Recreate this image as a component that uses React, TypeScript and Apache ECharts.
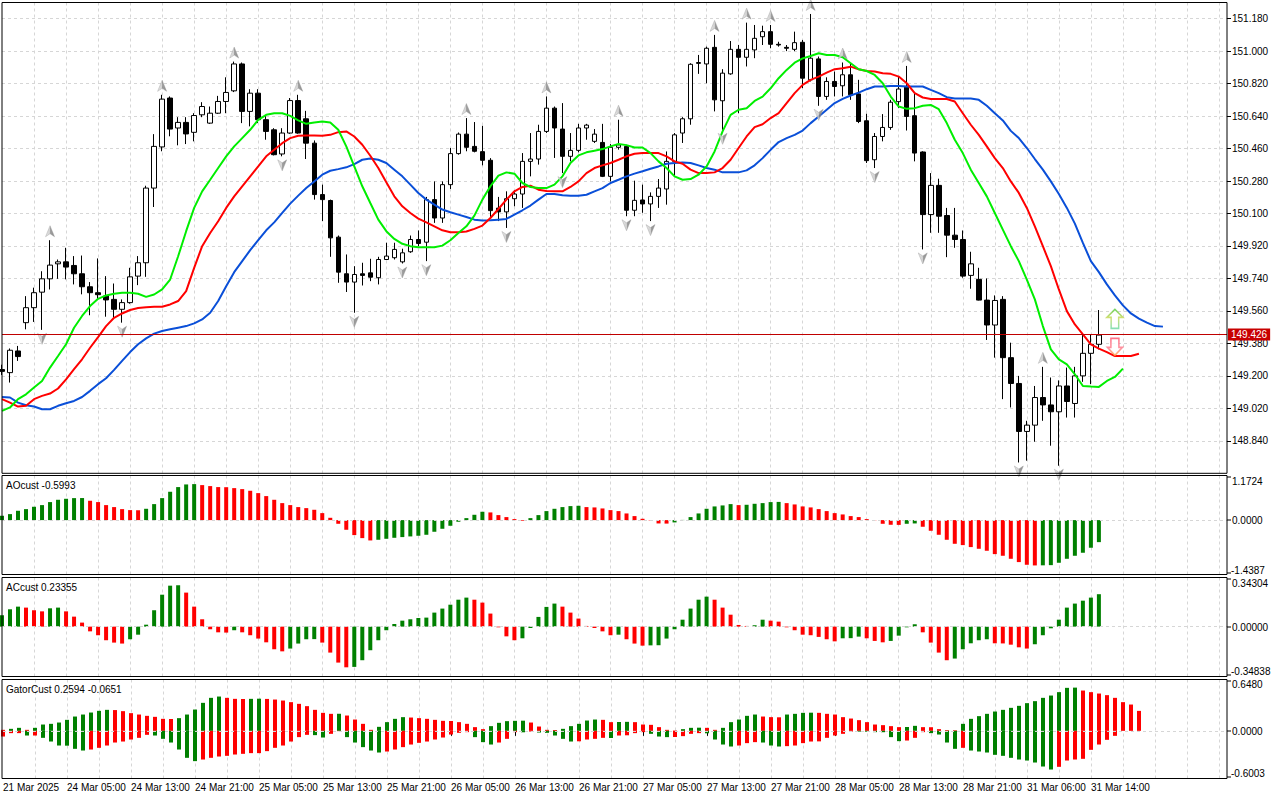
import React, { useEffect, useRef } from "react";
import * as echarts from "echarts";

// ---------- data (USDJPY H1) ----------
const timeLabels = [
  "21 Mar 2025", "24 Mar 05:00", "24 Mar 13:00", "24 Mar 21:00", "25 Mar 05:00", "25 Mar 13:00",
  "25 Mar 21:00", "26 Mar 05:00", "26 Mar 13:00", "26 Mar 21:00", "27 Mar 05:00", "27 Mar 13:00",
  "27 Mar 21:00", "28 Mar 05:00", "28 Mar 13:00", "28 Mar 21:00", "31 Mar 06:00", "31 Mar 14:00",
];
const slotCount = 154;

const openP = [
  149.235, 149.218, 149.338, 149.495, 149.578, 149.664, 149.738, 149.821, 149.832, 149.812,
  149.766, 149.694, 149.661, 149.643, 149.624, 149.569, 149.606, 149.753, 149.827, 150.241,
  150.469, 150.740, 150.574, 150.605, 150.550, 150.647, 150.601, 150.656, 150.721, 150.780,
  150.929, 150.666, 150.767, 150.620, 150.564, 150.430, 150.546, 150.726, 150.625, 150.490,
  150.205, 150.172, 149.969, 149.766, 149.720, 149.766, 149.771, 149.744, 149.845, 149.855,
  149.832, 149.888, 149.956, 149.941, 150.177, 150.075, 150.260, 150.432, 150.540, 150.472,
  150.443, 150.395, 150.130, 150.109, 150.182, 150.208, 150.389, 150.402, 150.555, 150.684,
  150.568, 150.417, 150.450, 150.574, 150.500, 150.494, 150.306, 150.467, 150.472, 150.118,
  150.175, 150.153, 150.195, 150.236, 150.389, 150.546, 150.625, 150.932, 150.929, 151.021,
  150.725, 150.874, 151.010, 150.966, 151.007, 151.080, 151.108, 151.038, 151.021, 151.010,
  151.049, 150.841, 150.957, 150.749, 150.832, 150.808, 150.869, 150.763, 150.614, 150.398,
  150.527, 150.577, 150.720, 150.800, 150.642, 150.441, 150.094, 150.256, 150.089, 149.980,
  149.956, 149.757, 149.735, 149.620, 149.482, 149.624, 149.301, 149.158, 148.892, 148.927,
  149.080, 149.039, 149.001, 149.144, 149.047, 149.200, 149.325, 149.375,
];
const highP = [
  149.262, 149.352, 149.366, 149.642, 149.689, 149.780, 149.952, 149.845, 149.910, 149.864,
  149.867, 149.720, 149.851, 149.753, 149.712, 149.624, 149.799, 149.864, 150.254, 150.540,
  150.758, 150.749, 150.634, 150.634, 150.656, 150.717, 150.693, 150.752, 150.855, 150.942,
  150.937, 150.789, 150.789, 150.640, 150.573, 150.573, 150.740, 150.758, 150.669, 150.505,
  150.260, 150.177, 149.978, 149.873, 149.808, 149.827, 149.849, 149.860, 149.938, 149.938,
  149.905, 149.978, 150.006, 150.192, 150.278, 150.278, 150.463, 150.549, 150.629, 150.607,
  150.586, 150.407, 150.192, 150.223, 150.229, 150.435, 150.546, 150.592, 150.749, 150.693,
  150.712, 150.546, 150.597, 150.597, 150.568, 150.597, 150.485, 150.620, 150.481, 150.282,
  150.260, 150.217, 150.291, 150.444, 150.546, 150.634, 150.933, 150.979, 151.025, 151.090,
  150.900, 151.056, 151.034, 151.158, 151.145, 151.141, 151.145, 151.052, 151.034, 151.108,
  151.062, 151.206, 150.970, 150.855, 150.887, 150.937, 150.933, 150.841, 150.653, 150.546,
  150.651, 150.730, 150.859, 150.918, 150.767, 150.445, 150.324, 150.293, 150.131, 150.131,
  150.006, 149.888, 149.799, 149.740, 149.646, 149.642, 149.384, 149.200, 148.951, 149.144,
  149.250, 149.191, 149.175, 149.246, 149.250, 149.430, 149.430, 149.565,
];
const lowP = [
  149.205, 149.163, 149.283, 149.458, 149.499, 149.455, 149.679, 149.738, 149.735, 149.707,
  149.652, 149.536, 149.624, 149.528, 149.517, 149.495, 149.600, 149.703, 149.749, 150.136,
  150.445, 150.528, 150.478, 150.485, 150.500, 150.634, 150.597, 150.652, 150.656, 150.773,
  150.601, 150.583, 150.601, 150.509, 150.422, 150.417, 150.542, 150.542, 150.402, 150.177,
  150.058, 149.860, 149.716, 149.665, 149.550, 149.701, 149.725, 149.707, 149.842, 149.845,
  149.823, 149.882, 149.919, 149.836, 150.048, 150.048, 150.236, 150.426, 150.445, 150.439,
  150.367, 150.076, 150.058, 150.020, 150.140, 150.131, 150.306, 150.371, 150.546, 150.408,
  150.324, 150.389, 150.439, 150.509, 150.491, 150.302, 150.278, 150.454, 150.085, 150.085,
  150.104, 150.058, 150.131, 150.149, 150.310, 150.491, 150.592, 150.874, 150.822, 150.666,
  150.564, 150.869, 150.656, 150.915, 150.961, 151.034, 151.016, 151.025, 151.000, 151.000,
  150.795, 150.832, 150.697, 150.730, 150.749, 150.749, 150.730, 150.601, 150.380, 150.352,
  150.500, 150.564, 150.684, 150.560, 150.389, 149.901, 149.993, 149.993, 149.858, 149.910,
  149.744, 149.683, 149.618, 149.399, 149.301, 149.071, 149.025, 148.720, 148.730, 148.835,
  148.951, 148.813, 148.702, 148.969, 148.969, 149.167, 149.154, 149.347,
];
const closeP = [
  149.225, 149.342, 149.307, 149.578, 149.661, 149.738, 149.814, 149.832, 149.803, 149.766,
  149.694, 149.661, 149.650, 149.621, 149.569, 149.606, 149.749, 149.827, 150.241, 150.472,
  150.734, 150.568, 150.605, 150.541, 150.643, 150.693, 150.656, 150.721, 150.771, 150.929,
  150.666, 150.767, 150.620, 150.555, 150.426, 150.546, 150.726, 150.546, 150.490, 150.205,
  150.177, 149.965, 149.775, 149.720, 149.762, 149.757, 149.747, 149.845, 149.864, 149.901,
  149.882, 149.956, 149.934, 150.177, 150.075, 150.260, 150.432, 150.540, 150.467, 150.445,
  150.395, 150.116, 150.109, 150.182, 150.208, 150.389, 150.402, 150.555, 150.684, 150.574,
  150.417, 150.450, 150.574, 150.590, 150.540, 150.306, 150.467, 150.480, 150.118, 150.173,
  150.153, 150.195, 150.241, 150.389, 150.536, 150.625, 150.927, 150.937, 151.016, 150.730,
  150.878, 151.010, 150.966, 151.010, 151.071, 151.108, 151.038, 151.034, 151.016, 151.047,
  150.850, 150.961, 150.749, 150.832, 150.804, 150.869, 150.758, 150.610, 150.393, 150.527,
  150.577, 150.717, 150.790, 150.638, 150.435, 150.094, 150.256, 150.085, 149.980, 149.956,
  149.753, 149.821, 149.620, 149.482, 149.618, 149.301, 149.158, 148.892, 148.927, 149.080,
  149.039, 149.001, 149.144, 149.058, 149.200, 149.325, 149.375, 149.426,
];

// Alligator (already shifted forward as drawn)
const jaw = [
  149.083, 149.080, 149.052, 149.037, 149.030, 149.015, 149.015, 149.034, 149.048, 149.061,
  149.083, 149.117, 149.154, 149.187, 149.233, 149.283, 149.332, 149.375, 149.408, 149.434,
  149.449, 149.458, 149.467, 149.476, 149.491, 149.513, 149.550, 149.615, 149.697, 149.775,
  149.836, 149.897, 149.952, 150.007, 150.051, 150.103, 150.155, 150.199, 150.241, 150.278,
  150.315, 150.337, 150.346, 150.356, 150.374, 150.398, 150.405, 150.398, 150.380, 150.343,
  150.306, 150.260, 150.214, 150.177, 150.149, 150.122, 150.107, 150.094, 150.081, 150.066,
  150.061, 150.062, 150.066, 150.070, 150.094, 150.118, 150.144, 150.177, 150.208, 150.208,
  150.201, 150.199, 150.199, 150.204, 150.223, 150.241, 150.269, 150.287, 150.306, 150.321,
  150.334, 150.348, 150.361, 150.376, 150.380, 150.383, 150.380, 150.367, 150.352, 150.343,
  150.328, 150.328, 150.328, 150.339, 150.367, 150.407, 150.453, 150.496, 150.518, 150.536,
  150.560, 150.601, 150.638, 150.675, 150.712, 150.735, 150.754, 150.770, 150.789, 150.804,
  150.804, 150.807, 150.807, 150.804, 150.804, 150.804, 150.785, 150.767, 150.745, 150.737,
  150.737, 150.737, 150.730, 150.697, 150.656, 150.616, 150.558, 150.518, 150.463, 150.402,
  150.343, 150.278, 150.208, 150.131, 150.044, 149.937, 149.836, 149.775, 149.707, 149.646,
  149.591, 149.546, 149.517, 149.495, 149.476, 149.473,
];
const teeth = [
  149.071, 149.052, 149.030, 149.034, 149.071, 149.089, 149.102, 149.130, 149.181, 149.237,
  149.292, 149.356, 149.415, 149.476, 149.522, 149.546, 149.565, 149.576, 149.581, 149.583,
  149.583, 149.596, 149.615, 149.670, 149.799, 149.919, 149.992, 150.057, 150.131, 150.195,
  150.251, 150.306, 150.361, 150.417, 150.453, 150.490, 150.518, 150.531, 150.533, 150.533,
  150.531, 150.536, 150.551, 150.555, 150.527, 150.481, 150.420, 150.352, 150.273, 150.195,
  150.140, 150.103, 150.072, 150.051, 150.029, 150.007, 149.996, 149.996, 150.000, 150.015,
  150.033, 150.075, 150.125, 150.177, 150.223, 150.247, 150.254, 150.232, 150.225, 150.223,
  150.223, 150.247, 150.278, 150.324, 150.352, 150.367, 150.380, 150.398, 150.417, 150.431,
  150.435, 150.435, 150.435, 150.417, 150.389, 150.376, 150.343, 150.324, 150.324, 150.328,
  150.352, 150.398, 150.463, 150.527, 150.579, 150.595, 150.629, 150.656, 150.712, 150.767,
  150.813, 150.841, 150.859, 150.881, 150.900, 150.905, 150.914, 150.900, 150.890, 150.887,
  150.877, 150.874, 150.859, 150.822, 150.767, 150.743, 150.735, 150.735, 150.735, 150.721,
  150.656, 150.592, 150.536, 150.472, 150.407, 150.352, 150.278, 150.214, 150.131, 150.029,
  149.919, 149.808, 149.679, 149.559, 149.485, 149.430, 149.375, 149.351, 149.332, 149.310,
  149.310, 149.310, 149.323,
];
const lips = [
  149.006, 149.025, 149.071, 149.098, 149.135, 149.172, 149.246, 149.310, 149.375, 149.467,
  149.532, 149.587, 149.627, 149.646, 149.655, 149.661, 149.661, 149.655, 149.638, 149.651,
  149.679, 149.734, 149.863, 150.002, 150.131, 150.223, 150.287, 150.352, 150.417, 150.472,
  150.518, 150.564, 150.619, 150.647, 150.656, 150.656, 150.641, 150.616, 150.597, 150.605,
  150.610, 150.605, 150.564, 150.472, 150.361, 150.251, 150.158, 150.066, 150.002, 149.959,
  149.932, 149.919, 149.913, 149.913, 149.913, 149.922, 149.952, 149.992, 150.029, 150.088,
  150.177, 150.251, 150.310, 150.328, 150.321, 150.269, 150.247, 150.241, 150.241, 150.260,
  150.306, 150.380, 150.422, 150.439, 150.448, 150.457, 150.472, 150.485, 150.479, 150.466,
  150.466, 150.435, 150.389, 150.352, 150.306, 150.287, 150.291, 150.315, 150.361, 150.444,
  150.555, 150.647, 150.675, 150.684, 150.724, 150.748, 150.794, 150.850, 150.896, 150.936,
  150.960, 150.973, 150.988, 150.979, 150.979, 150.966, 150.933, 150.900, 150.890, 150.868,
  150.822, 150.748, 150.693, 150.680, 150.684, 150.697, 150.702, 150.678, 150.601, 150.509,
  150.435, 150.343, 150.269, 150.195, 150.103, 150.011, 149.919, 149.836, 149.734, 149.624,
  149.476, 149.347, 149.292, 149.264, 149.209, 149.144, 149.141, 149.139, 149.172, 149.194,
  149.240,
];

// Fractal bars (index of bar)
const upFractalBars = [6, 20, 29, 37, 58, 68, 77, 89, 93, 96, 101, 105, 113, 130];
const downFractalBars = [5, 15, 35, 44, 50, 53, 63, 70, 78, 81, 90, 102, 109, 115, 127, 132];

// Signal arrows [bar, price]
const signalUp = [[139, 149.516]];
const signalDown = [[139, 149.361]];

// Oscillators
const aoValues = [
  0.118, 0.163, 0.254, 0.299, 0.363, 0.408, 0.490, 0.553, 0.580, 0.598,
  0.600, 0.526, 0.490, 0.408, 0.354, 0.299, 0.272, 0.268, 0.308, 0.435,
  0.598, 0.771, 0.898, 0.970, 0.979, 0.952, 0.925, 0.898, 0.895, 0.870,
  0.843, 0.798, 0.734, 0.653, 0.553, 0.462, 0.408, 0.354, 0.326, 0.281,
  0.190, 0.063, -0.100, -0.263, -0.408, -0.490, -0.553, -0.535, -0.508, -0.481,
  -0.462, -0.444, -0.426, -0.399, -0.317, -0.236, -0.154, -0.045, 0.054, 0.145,
  0.227, 0.209, 0.136, 0.082, 0.027, -0.018, 0.054, 0.136, 0.245, 0.308,
  0.354, 0.381, 0.390, 0.354, 0.345, 0.317, 0.272, 0.245, 0.181, 0.109,
  0.036, -0.009, -0.091, -0.095, -0.063, 0.005, 0.082, 0.181, 0.308, 0.372,
  0.399, 0.435, 0.408, 0.417, 0.444, 0.462, 0.490, 0.495, 0.462, 0.426,
  0.372, 0.345, 0.299, 0.245, 0.190, 0.154, 0.109, 0.082, 0.027, -0.005,
  -0.100, -0.127, -0.130, -0.100, -0.091, -0.181, -0.290, -0.399, -0.535, -0.644,
  -0.680, -0.734, -0.780, -0.834, -0.925, -0.970, -1.052, -1.142, -1.215, -1.233,
  -1.230, -1.225, -1.160, -1.052, -0.970, -0.888, -0.752, -0.5993,
];
const acValues = [
  0.082, 0.125, 0.144, 0.137, 0.118, 0.110, 0.132, 0.137, 0.110, 0.072,
  0.029, -0.034, -0.062, -0.098, -0.115, -0.122, -0.091, -0.058, 0.014, 0.118,
  0.230, 0.295, 0.298, 0.245, 0.144, 0.053, -0.019, -0.041, -0.043, -0.026,
  -0.041, -0.062, -0.086, -0.113, -0.163, -0.178, -0.158, -0.122, -0.091, -0.090,
  -0.115, -0.187, -0.259, -0.293, -0.290, -0.242, -0.170, -0.098, -0.026, 0.019,
  0.043, 0.053, 0.062, 0.065, 0.101, 0.130, 0.158, 0.194, 0.209, 0.194,
  0.173, 0.094, -0.005, -0.070, -0.098, -0.084, -0.010, 0.070, 0.142, 0.166,
  0.144, 0.101, 0.058, 0.005, -0.010, -0.034, -0.062, -0.058, -0.091, -0.122,
  -0.137, -0.135, -0.134, -0.086, -0.019, 0.050, 0.130, 0.194, 0.216, 0.194,
  0.137, 0.086, 0.012, 0.005, 0.010, 0.050, 0.043, 0.036, -0.005, -0.026,
  -0.058, -0.062, -0.074, -0.091, -0.106, -0.084, -0.083, -0.072, -0.084, -0.103,
  -0.113, -0.103, -0.065, -0.005, 0.017, -0.041, -0.115, -0.187, -0.242, -0.230,
  -0.163, -0.120, -0.098, -0.091, -0.120, -0.121, -0.130, -0.149, -0.158, -0.127,
  -0.062, -0.012, 0.050, 0.137, 0.166, 0.187, 0.209, 0.23355,
];
const gatorUpper = [
  0.013, 0.026, 0.039, 0.013, 0.039, 0.082, 0.091, 0.108, 0.143, 0.186,
  0.212, 0.238, 0.260, 0.273, 0.270, 0.256, 0.230, 0.212, 0.195, 0.182,
  0.156, 0.154, 0.165, 0.212, 0.277, 0.364, 0.429, 0.446, 0.429, 0.416,
  0.414, 0.416, 0.418, 0.415, 0.407, 0.394, 0.373, 0.351, 0.321, 0.273,
  0.234, 0.221, 0.222, 0.199, 0.147, 0.091, 0.013, 0.052, 0.113, 0.156,
  0.178, 0.173, 0.165, 0.156, 0.143, 0.130, 0.128, 0.113, 0.091, 0.048,
  0.022, 0.061, 0.104, 0.126, 0.130, 0.132, 0.108, 0.056, 0.013, 0.011,
  0.026, 0.061, 0.091, 0.134, 0.147, 0.143, 0.113, 0.115, 0.117, 0.113,
  0.082, 0.078, 0.048, 0.013, 0.004, 0.022, 0.039, 0.041, 0.039, 0.013,
  0.039, 0.113, 0.147, 0.195, 0.212, 0.186, 0.178, 0.176, 0.212, 0.221,
  0.234, 0.236, 0.234, 0.221, 0.212, 0.178, 0.160, 0.139, 0.113, 0.082,
  0.074, 0.061, 0.048, 0.050, 0.065, 0.048, 0.047, 0.022, 0.009, 0.008,
  0.091, 0.156, 0.191, 0.221, 0.251, 0.273, 0.299, 0.325, 0.360, 0.386,
  0.429, 0.459, 0.503, 0.559, 0.562, 0.524, 0.503, 0.485, 0.464, 0.429,
  0.373, 0.342, 0.2594,
];
const gatorLower = [
  -0.074, -0.030, -0.030, -0.061, -0.061, -0.091, -0.139, -0.191, -0.193, -0.234,
  -0.256, -0.243, -0.221, -0.191, -0.152, -0.139, -0.113, -0.091, -0.052, -0.061,
  -0.104, -0.152, -0.243, -0.351, -0.394, -0.373, -0.351, -0.334, -0.325, -0.308,
  -0.299, -0.290, -0.290, -0.264, -0.221, -0.191, -0.139, -0.082, -0.052, -0.056,
  -0.087, -0.039, -0.004, -0.082, -0.152, -0.212, -0.256, -0.282, -0.269, -0.243,
  -0.212, -0.178, -0.156, -0.139, -0.113, -0.087, -0.048, -0.026, -0.017, -0.082,
  -0.147, -0.178, -0.152, -0.104, -0.017, -0.019, -0.009, -0.022, -0.026, -0.061,
  -0.104, -0.139, -0.136, -0.113, -0.104, -0.091, -0.093, -0.061, -0.058, -0.030,
  -0.017, -0.039, -0.074, -0.082, -0.080, -0.069, -0.039, -0.030, -0.032, -0.113,
  -0.178, -0.204, -0.191, -0.160, -0.147, -0.152, -0.191, -0.204, -0.199, -0.191,
  -0.160, -0.139, -0.137, -0.091, -0.061, -0.039, -0.009, -0.010, -0.011, -0.017,
  -0.018, -0.082, -0.134, -0.126, -0.091, -0.017, -0.030, -0.048, -0.152, -0.234,
  -0.221, -0.256, -0.269, -0.282, -0.312, -0.325, -0.351, -0.373, -0.386, -0.412,
  -0.464, -0.503, -0.468, -0.386, -0.373, -0.364, -0.247, -0.178, -0.117, -0.0651,
];

// pane scale labels
const aoScale = { top: 1.1724, bottom: -1.4387 };
const acScale = { top: 0.34304, bottom: -0.34838 };
const gatorScale = { top: 0.648, bottom: -0.6003 };

// ---------- styling ----------
const FONT = "'Liberation Sans', Arial, sans-serif";
const GREEN = "#008000";
const RED = "#ff0000";
const GRIDC = "#d6d6d6";

function colored(values: number[], useAbs: boolean, firstColor: string) {
  return values.map((v, i) => {
    let c = firstColor;
    if (i > 0) {
      const a = useAbs ? Math.abs(v) : v;
      const b = useAbs ? Math.abs(values[i - 1]) : values[i - 1];
      c = a > b ? GREEN : RED;
    }
    return { value: v, itemStyle: { color: c } };
  });
}

function buildOption() {
  const categories = Array.from({ length: slotCount }, (_, i) => String(i));
  const L = 2;
  const R = 53;
  const gridBoxes = [
    { top: 2.5, height: 470.8 },
    { top: 475.5, height: 99 },
    { top: 577.5, height: 99 },
    { top: 679.5, height: 99 },
  ];
  const grids = gridBoxes.map((g) => ({
    left: L, right: R, top: g.top, height: g.height,
    show: false,
  }));

  const labelShown = (i: number) => i % 8 === 0 && i / 8 < timeLabels.length;
  const xAxes = grids.map((_, k) => ({
    type: "category",
    gridIndex: k,
    data: categories,
    boundaryGap: false,
    axisLine: { show: false },
    axisTick: k === 3
      ? { show: true, interval: labelShown, length: 5, lineStyle: { color: "#000" } }
      : { show: false },
    axisLabel: k === 3
      ? {
          show: true,
          interval: labelShown,
          formatter: (v: string) => timeLabels[Number(v) / 8] ?? "",
          align: "left",
          margin: 4,
          color: "#000",
          fontSize: 10,
          fontFamily: FONT,
        }
      : { show: false },
    splitLine: {
      show: true,
      interval: (i: number) => i % 4 === 0 && i > 0,
      lineStyle: { color: GRIDC, type: [3, 3], width: 1 },
    },
  }));

  const pxAO = 96 / (aoScale.top - aoScale.bottom);
  const pxAC = 96 / (acScale.top - acScale.bottom);
  const pxG = 96 / (gatorScale.top - gatorScale.bottom);
  const sub = (gi: number, top: number, bottom: number, px: number) => ({
    type: "value",
    gridIndex: gi,
    position: "right",
    min: bottom - 1.5 / px,
    max: top + 1.5 / px,
    axisLine: { show: false },
    axisTick: { show: false },
    axisLabel: { show: false },
    splitLine: { show: false },
  });

  const yAxes = [
    {
      type: "value",
      gridIndex: 0,
      position: "right",
      min: 148.66,
      max: 151.2696,
      interval: 0.18,
      axisLine: { show: false },
      axisTick: { show: true, length: 4, lineStyle: { color: "#000" } },
      axisLabel: {
        show: true,
        showMinLabel: false,
        showMaxLabel: false,
        formatter: (v: number) => v.toFixed(3),
        margin: 5,
        color: "#000",
        fontSize: 10,
        fontFamily: FONT,
      },
      splitLine: {
        show: true,
        showMinLine: false,
        showMaxLine: false,
        lineStyle: { color: GRIDC, type: [3, 3], width: 1 },
      },
    },
    sub(1, aoScale.top, aoScale.bottom, pxAO),
    sub(2, acScale.top, acScale.bottom, pxAC),
    sub(3, gatorScale.top, gatorScale.bottom, pxG),
  ];

  const candles = openP.map((o, i) => [o, closeP[i], lowP[i], highP[i]]);
  const lastClose = closeP[closeP.length - 1];

  const fractalFill = new echarts.graphic.LinearGradient(0, 0, 1, 0, [
    { offset: 0, color: "#e2e2e2" },
    { offset: 0.5, color: "#c4c4c4" },
    { offset: 0.5, color: "#8a8a8a" },
    { offset: 1, color: "#6e6e6e" },
  ]);
  const upArrowStroke = new echarts.graphic.LinearGradient(0, 0, 0, 1, [
    { offset: 0, color: "#52c83a" },
    { offset: 0.45, color: "#c8d850" },
    { offset: 1, color: "#6ad8a0" },
  ]);
  const downArrowStroke = new echarts.graphic.LinearGradient(0, 0, 0, 1, [
    { offset: 0, color: "#ff4f6a" },
    { offset: 0.6, color: "#ff7a8a" },
    { offset: 1, color: "#ffa040" },
  ]);

  const zeroLine = {
    silent: true,
    symbol: "none",
    label: { show: false },
    lineStyle: { color: GRIDC, type: [3, 3], width: 1 },
    data: [{ yAxis: 0 }],
  };

  const series: any[] = [
    {
      type: "candlestick",
      xAxisIndex: 0,
      yAxisIndex: 0,
      data: candles,
      barWidth: 5,
      z: 2,
      itemStyle: {
        color: "#ffffff",
        color0: "#000000",
        borderColor: "#000000",
        borderColor0: "#000000",
        borderWidth: 1,
      },
      markLine: {
        silent: true,
        symbol: "none",
        lineStyle: { color: "#c00000", type: "solid", width: 1 },
        label: {
          show: true,
          position: "end",
          distance: 1,
          formatter: () => lastClose.toFixed(3),
          backgroundColor: "#c80000",
          color: "#ffffff",
          padding: [1, 3, 1, 3],
          fontSize: 10,
          fontFamily: FONT,
        },
        data: [{ yAxis: lastClose }],
      },
    },
    {
      type: "line", xAxisIndex: 0, yAxisIndex: 0, data: jaw, symbol: "none", z: 3,
      lineStyle: { color: "#0a4fd8", width: 2 },
    },
    {
      type: "line", xAxisIndex: 0, yAxisIndex: 0, data: teeth, symbol: "none", z: 3,
      lineStyle: { color: "#ff0000", width: 2 },
    },
    {
      type: "line", xAxisIndex: 0, yAxisIndex: 0, data: lips, symbol: "none", z: 3,
      lineStyle: { color: "#00ee00", width: 2 },
    },
    {
      type: "scatter", xAxisIndex: 0, yAxisIndex: 0, z: 4,
      data: upFractalBars.map((i) => [i, highP[i]]),
      symbol: "path://M5 0 L10 11 L5 8 L0 11 Z",
      symbolSize: [9, 11],
      symbolOffset: [0, -9],
      itemStyle: { color: fractalFill, borderColor: "#9a9a9a", borderWidth: 0.5 },
    },
    {
      type: "scatter", xAxisIndex: 0, yAxisIndex: 0, z: 4,
      data: downFractalBars.map((i) => [i, lowP[i]]),
      symbol: "path://M0 0 L5 3 L10 0 L5 11 Z",
      symbolSize: [9, 11],
      symbolOffset: [0, 9],
      itemStyle: { color: fractalFill, borderColor: "#9a9a9a", borderWidth: 0.5 },
    },
    {
      type: "scatter", xAxisIndex: 0, yAxisIndex: 0, z: 5,
      data: signalUp,
      symbol: "path://M8.5 0 L17 8 L12.5 8 L12.5 19 L4.5 19 L4.5 8 L0 8 Z",
      symbolSize: [16, 19],
      itemStyle: { color: "#ffffff", borderColor: upArrowStroke, borderWidth: 1.6 },
    },
    {
      type: "scatter", xAxisIndex: 0, yAxisIndex: 0, z: 5,
      data: signalDown,
      symbol: "path://M3.5 0 L11.5 0 L11.5 9 L15 9 L7.5 17 L0 9 L3.5 9 Z",
      symbolSize: [15, 17],
      itemStyle: { color: "#ffffff", borderColor: downArrowStroke, borderWidth: 1.6 },
    },
    {
      type: "bar", xAxisIndex: 1, yAxisIndex: 1, barWidth: 4,
      data: colored(aoValues, false, GREEN),
      markLine: zeroLine,
    },
    {
      type: "bar", xAxisIndex: 2, yAxisIndex: 2, barWidth: 4,
      data: colored(acValues, false, GREEN),
      markLine: zeroLine,
    },
    {
      type: "bar", xAxisIndex: 3, yAxisIndex: 3, barWidth: 4, barGap: "-100%",
      data: colored(gatorUpper, false, RED),
      markLine: zeroLine,
    },
    {
      type: "bar", xAxisIndex: 3, yAxisIndex: 3, barWidth: 4, barGap: "-100%",
      data: colored(gatorLower, true, RED),
    },
  ];

  const txt = (x: number, y: number, s: string, color = "#000") => ({
    type: "text",
    x,
    y,
    silent: true,
    z: 120,
    style: { text: s, fill: color, fontSize: 10, fontFamily: FONT, verticalAlign: "middle", align: "left" },
  });
  const tick = (y: number) => ({
    type: "line",
    silent: true,
    z: 120,
    shape: { x1: 1227, y1: y, x2: 1231, y2: y },
    style: { stroke: "#000", lineWidth: 1 },
  });
  const frame = (top: number, height: number) => ({
    type: "rect",
    silent: true,
    z: 110,
    shape: { x: L, y: top, width: 1280 - L - R, height },
    style: { fill: "none", stroke: "#000", lineWidth: 1 },
  });

  const graphic = [
    ...gridBoxes.map((g) => frame(g.top, g.height)),
    txt(6, 485, "AOcust " + aoValues[aoValues.length - 1].toFixed(4)),
    txt(6, 587, "ACcust " + acValues[acValues.length - 1].toFixed(5)),
    txt(6, 689, "GatorCust " + gatorUpper[gatorUpper.length - 1].toFixed(4) + " " + gatorLower[gatorLower.length - 1].toFixed(4)),
    txt(1232, 481, aoScale.top.toFixed(4)),
    txt(1232, 520, (0).toFixed(4)),
    txt(1231, 570, aoScale.bottom.toFixed(4)),
    txt(1232, 583, acScale.top.toFixed(5)),
    txt(1232, 627, (0).toFixed(5)),
    txt(1231, 671.5, acScale.bottom.toFixed(5)),
    txt(1232, 684.5, gatorScale.top.toFixed(4)),
    txt(1232, 731, (0).toFixed(4)),
    txt(1231, 773.5, gatorScale.bottom.toFixed(4)),
    tick(477), tick(520), tick(573),
    tick(579), tick(627), tick(675),
    tick(681), tick(731), tick(777),
  ];

  return {
    animation: false,
    backgroundColor: "#ffffff",
    textStyle: { fontFamily: FONT },
    grid: grids,
    xAxis: xAxes,
    yAxis: yAxes,
    series,
    graphic,
  };
}

export default function App() {
  const ref = useRef<HTMLDivElement>(null);
  useEffect(() => {
    if (!ref.current) return;
    const chart = echarts.init(ref.current, null, { renderer: "svg" });
    chart.setOption(buildOption() as any);
    return () => chart.dispose();
  }, []);
  return (
    <div
      ref={ref}
      style={{ position: "fixed", left: 0, top: 0, width: 1280, height: 800, background: "#fff" }}
    />
  );
}
